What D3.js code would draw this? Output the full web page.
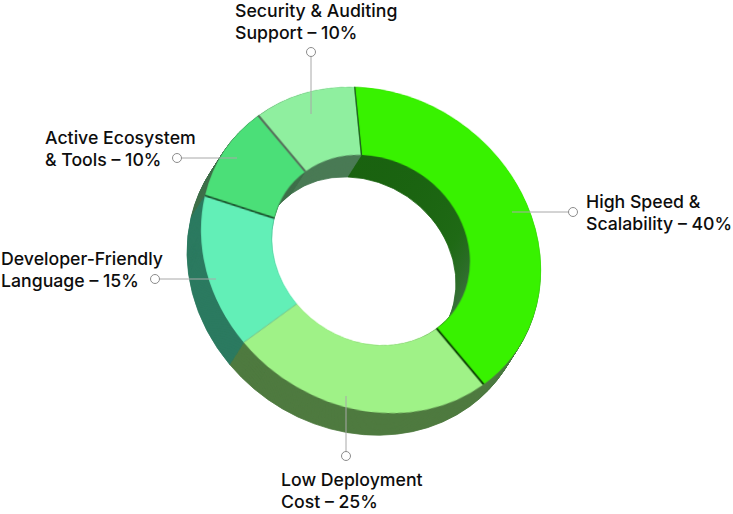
<!DOCTYPE html>
<html>
<head>
<meta charset="utf-8">
<script src="https://cdnjs.cloudflare.com/ajax/libs/d3/7.8.5/d3.min.js"></script>
<style>
  html, body { margin: 0; padding: 0; background: #fff; }
  svg { display: block; }
  text { font-family: Inter, sans-serif; font-weight: 500; font-size: 17.7px; fill: #0d0d0d; }
</style>
</head>
<body>
<svg id="chart"></svg>
<script>
// Chart values
const categories = ["High Speed & Scalability", "Low Deployment Cost", "Developer-Friendly Language", "Active Ecosystem & Tools", "Security & Auditing Support"];
const values = [40, 25, 15, 10, 10];
const labelLines = [
  ["High Speed &", "Scalability \u2013 40%"],
  ["Low Deployment", "Cost \u2013 25%"],
  ["Developer-Friendly", "Language \u2013 15%"],
  ["Active Ecosystem", "& Tools \u2013 10%"],
  ["Security & Auditing", "Support \u2013 10%"]
];

// Styles
const topColors = ["#39f200", "#9ff287", "#62efb7", "#4bdf78", "#8fef9f"];
const sideColors = ["url(#wallHigh)", "#4f7a40", "#2c7a60", "#3f6f4a", "#4a7a55"];
const seamColors = ["#0b4a05", "#7fc48a", "#1d5a30", "#56705c", "#0f5a0a"];
const seamWidths = [2.4, 0.8, 2.2, 2.4, 1.4];

// Layout
const width = 733, height = 514;
const cx = 371, cy = 250;
const outerR = 170, innerR = 99;
const depth = { x: -14, y: 22, steps: 26 };
const startDeg = -5.5;
// leader: line from the ring out to the open circle, then text position
const leaders = [
  { from: [512, 212], to: [573, 212], text: [586, 208] },
  { from: [346, 396], to: [346, 456], text: [281, 486] },
  { from: [216, 279], to: [155, 279], text: [1, 265] },
  { from: [237, 158], to: [177, 158], text: [45, 144] },
  { from: [311, 114], to: [311, 52], text: [235, 17] }
];

const svg = d3.select("#chart").attr("width", width).attr("height", height);

const defs = svg.append("defs");
const wallHigh = defs.append("linearGradient")
  .attr("id", "wallHigh")
  .attr("x1", 0).attr("y1", 0).attr("x2", 0).attr("y2", 1);
wallHigh.selectAll("stop")
  .data([[0, "#145a0a"], [0.45, "#1f6a15"], [0.68, "#38703a"], [1, "#4f7a40"]])
  .enter()
  .append("stop")
  .attr("offset", d => d[0])
  .attr("stop-color", d => d[1]);

defs.append("filter")
  .attr("id", "soft")
  .append("feGaussianBlur")
  .attr("stdDeviation", 0.45);

const pie = d3.pie().sort(null)
  .startAngle(startDeg * Math.PI / 180)
  .endAngle((startDeg + 360) * Math.PI / 180);
const slices = pie(values);

const arc = d3.arc().innerRadius(innerR).outerRadius(outerR);

// The ring is a tilted disc, so everything gets the same skew
const tilt = (dx, dy) => `matrix(1,0.117,0,0.953,${cx + dx},${cy + dy})`;

// Extruded side: stack of rings from back to front
const sides = svg.append("g");
d3.range(depth.steps, 0, -1).forEach(i => {
  const t = i / depth.steps;
  sides.append("g")
    .attr("transform", tilt(depth.x * t, depth.y * t))
    .selectAll("path")
    .data(slices)
    .enter()
    .append("path")
    .attr("d", arc)
    .attr("fill", (d, j) => sideColors[j])
    .attr("stroke", (d, j) => sideColors[j])
    .attr("stroke-width", 0.8);
});

// Top face
const face = svg.append("g")
  .attr("transform", tilt(0, 0))
  .attr("filter", "url(#soft)");
face.selectAll("path.slice")
  .data(slices)
  .enter()
  .append("path")
  .attr("class", "slice")
  .attr("d", arc)
  .attr("fill", (d, i) => topColors[i]);

// Dark seams between the slices
face.selectAll("line.seam")
  .data(slices)
  .enter()
  .append("line")
  .attr("class", "seam")
  .attr("x1", d => d3.pointRadial(d.endAngle, innerR)[0])
  .attr("y1", d => d3.pointRadial(d.endAngle, innerR)[1])
  .attr("x2", d => d3.pointRadial(d.endAngle, outerR)[0])
  .attr("y2", d => d3.pointRadial(d.endAngle, outerR)[1])
  .attr("stroke", (d, i) => seamColors[i])
  .attr("stroke-width", (d, i) => seamWidths[i]);

// Leader lines
const leader = svg.append("g").selectAll("g")
  .data(leaders)
  .enter()
  .append("g");

leader.append("line")
  .attr("x1", d => d.from[0])
  .attr("y1", d => d.from[1])
  .attr("x2", d => d.to[0])
  .attr("y2", d => d.to[1])
  .attr("stroke", "#a8a8a8")
  .attr("stroke-width", 1);

leader.append("circle")
  .attr("cx", d => d.to[0])
  .attr("cy", d => d.to[1])
  .attr("r", 4.5)
  .attr("fill", "#fff")
  .attr("stroke", "#8c8c8c")
  .attr("stroke-width", 1);

// Labels
const label = leader.append("text")
  .attr("aria-label", (d, i) => categories[i])
  .attr("transform", d => `translate(${d.text[0]},${d.text[1]})`);

label.selectAll("tspan")
  .data((d, i) => labelLines[i])
  .enter()
  .append("tspan")
  .attr("x", 0)
  .attr("y", (d, i) => i * 22)
  .text(d => d);
</script>
</body>
</html>
